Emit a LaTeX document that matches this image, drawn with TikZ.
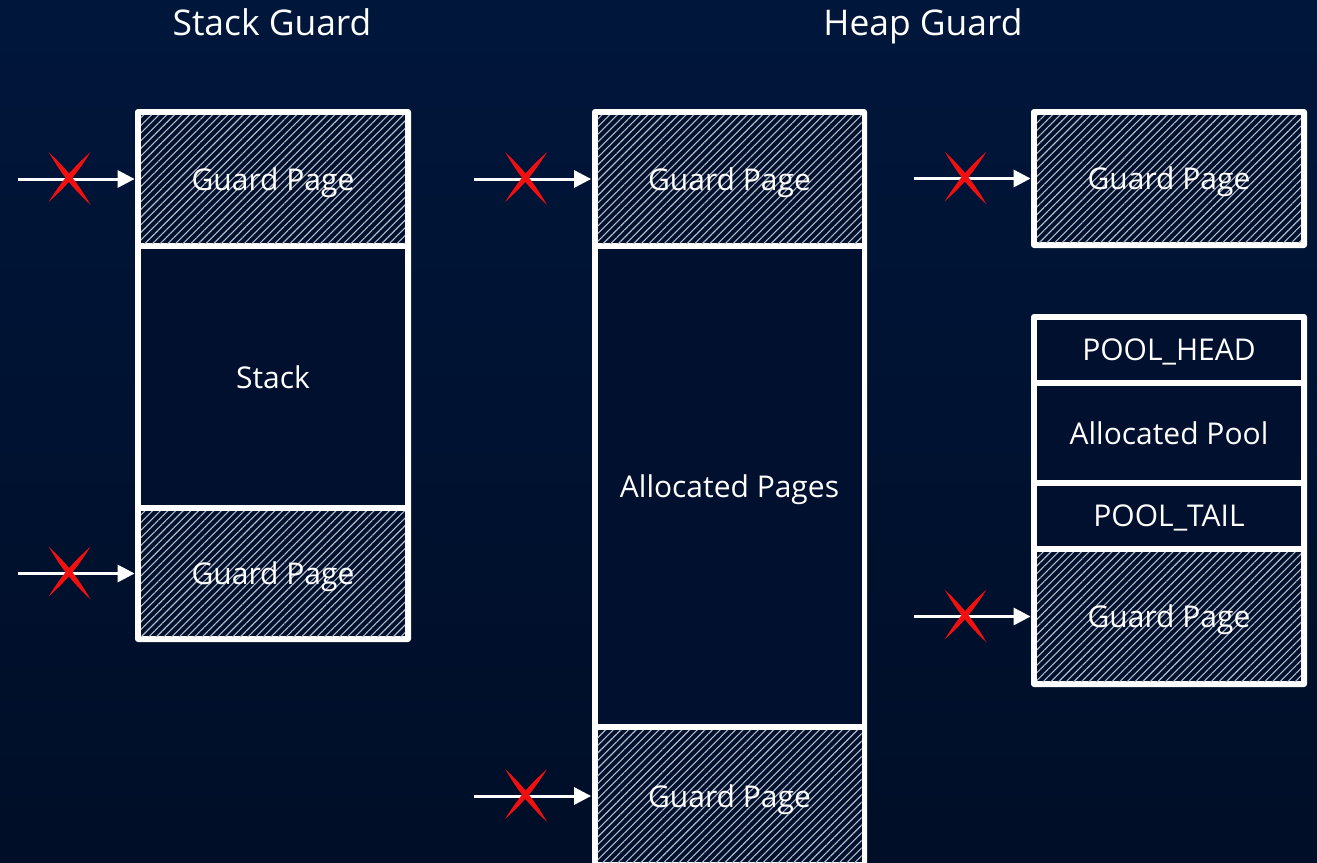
\documentclass[tikz,border=0pt]{standalone}
\usepackage{fontspec}
\setmainfont{Open Sans}
\usetikzlibrary{arrows.meta, positioning, patterns.meta}

\definecolor{bgtop}{HTML}{00163B}
\definecolor{bgbot}{HTML}{000E27}
\definecolor{cellfill}{HTML}{00102E}
\definecolor{hatchgray}{HTML}{B8BEC8}
\definecolor{crossred}{HTML}{F01010}

\begin{document}
\begin{tikzpicture}[x=0.5pt, y=-0.5pt, >={Triangle[length=8.5pt, width=8.5pt]},
    title/.style={text=white, text depth=0pt, font=\fontsize{17.7}{20}\selectfont},
    cell/.style={fill=cellfill, text=white, inner sep=0pt, minimum width=132pt,
      text depth=0pt, font=\fontsize{15}{18}\selectfont},
    guard/.style={cell, postaction={pattern color=hatchgray,
      pattern={Lines[angle=45, distance=2.7pt, line width=0.55pt]}}},
    frame/.style={fill=white, rounded corners=1.5pt},
    hit/.style={->, white, line width=1.5pt, shorten >=3pt}]

    % Sfondo
    \useasboundingbox (0,0) rectangle (1317,862);
    \shade[top color=bgtop, bottom color=bgbot] (0,0) rectangle (1317,862);
    \clip (0,0) rectangle (1317,862);

    % Titoli
    \node[title] (stackTitle) at (272,22) {Stack Guard};
    \node[title] (heapTitle)  at (923,22) {Heap Guard};

    % Cornici bianche
    \fill[frame] (135,109) rectangle (411,642);
    \fill[frame] (592,109) rectangle (867,870);
    \fill[frame] (1031,109) rectangle (1307,248);
    \fill[frame] (1031,314) rectangle (1307,687);

    % ================= STACK GUARD =================
    \node[guard, minimum height=64pt]   (sgTop)   at (273,179)   {Guard Page};
    \node[cell,  minimum height=128pt]  (sgStack) at (273,377)   {Stack};
    \node[guard, minimum height=62.5pt] (sgBot)   at (273,573.5) {Guard Page};

    % ================= HEAP GUARD (pagine) =================
    \node[guard, minimum height=64pt]    (hgTop)   at (729.5,179)   {Guard Page};
    \node[cell,  minimum height=237.5pt] (hgPages) at (729.5,486.5) {Allocated Pages};
    \node[guard, minimum height=66pt]    (hgBot)   at (729.5,796)   {Guard Page};

    % ================= HEAP GUARD (pool) =================
    \node[guard, minimum height=63.5pt] (pgTop)     at (1169,178.5) {Guard Page};
    \node[cell,  minimum height=30pt]   (poolHead)  at (1169,350)   {POOL\_HEAD};
    \node[cell,  minimum height=47pt]   (poolBody)  at (1169,433)   {Allocated Pool};
    \node[cell,  minimum height=30pt]   (poolTail)  at (1169,516)   {POOL\_TAIL};
    \node[guard, minimum height=64.5pt] (poolGuard) at (1169,616.5) {Guard Page};

    % Punti di partenza degli accessi
    \coordinate[left=61.5pt of sgTop]     (sgTopIn);
    \coordinate[left=61.5pt of sgBot]     (sgBotIn);
    \coordinate[left=61.5pt of hgTop]     (hgTopIn);
    \coordinate[left=61.5pt of hgBot]     (hgBotIn);
    \coordinate[left=61.5pt of pgTop]     (pgTopIn);
    \coordinate[left=61.5pt of poolGuard] (poolGuardIn);

    % Accessi bloccati
    \draw[hit] (sgTopIn) -- (sgTop);
    \draw[hit] (sgBotIn) -- (sgBot);
    \draw[hit] (hgTopIn) -- (hgTop);
    \draw[hit] (hgBotIn) -- (hgBot);
    \draw[hit] (pgTopIn) -- (pgTop);
    \draw[hit] (poolGuardIn) -- (poolGuard);

    % Croci rosse
    \foreach \p in {sgTopIn, sgBotIn, hgTopIn, hgBotIn, pgTopIn, poolGuardIn} {
        \fill[crossred] (\p) ++(31,-27) to[bend left=8] ++(42,53) to[bend left=8] ++(-42,-53) -- cycle;
        \fill[crossred] (\p) ++(73,-27) to[bend left=8] ++(-42,50) to[bend left=8] ++(42,-50) -- cycle;
    }

\end{tikzpicture}
\end{document}
